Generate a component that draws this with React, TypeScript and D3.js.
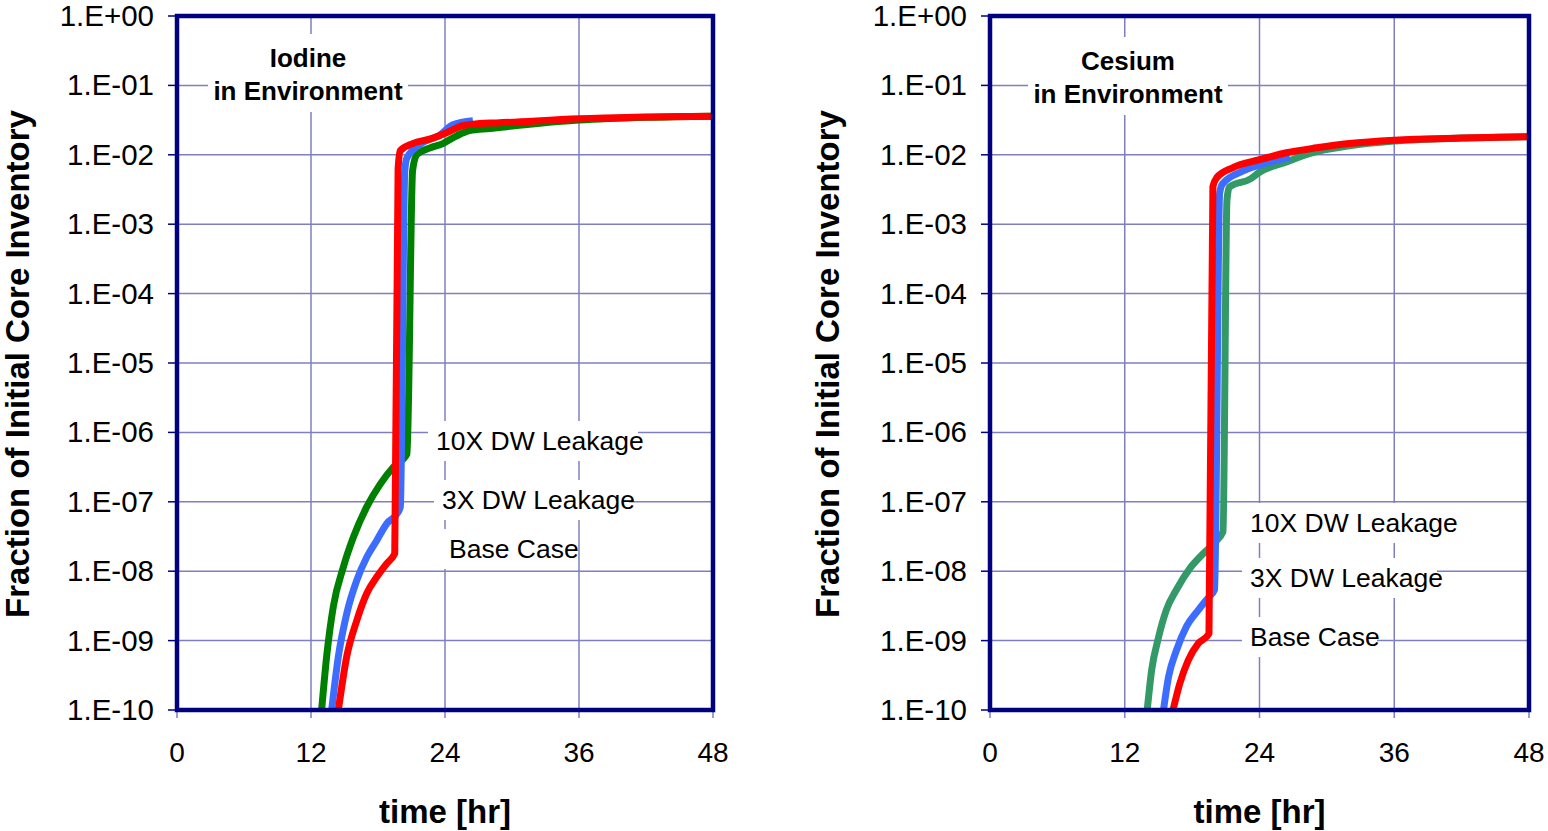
import * as d3 from "d3";

// tick definitions
const yExponents = [0, -1, -2, -3, -4, -5, -6, -7, -8, -9, -10];
const yTickLabels = ["1.E+00", "1.E-01", "1.E-02", "1.E-03", "1.E-04", "1.E-05", "1.E-06", "1.E-07", "1.E-08", "1.E-09", "1.E-10"];
const xTicks = [0, 12, 24, 36, 48];

// Iodine in environment (hours, fraction of initial core inventory)
const iodineTime10x = [12.95, 13.4, 14.0, 14.9, 15.8, 17.0, 18.2, 19.4, 20.6, 21.1, 21.5, 22.7, 23.8, 25.0, 26.2, 28.0, 36, 42, 48];
const iodineFrac10x = [1e-10, 5.9e-10, 3.1e-9, 1.15e-8, 3.1e-8, 8.5e-8, 1.8e-7, 3.2e-7, 4.9e-7, 6e-3, 1.02e-2, 1.26e-2, 1.45e-2, 1.86e-2, 2.24e-2, 2.4e-2, 3.16e-2, 3.47e-2, 3.6e-2];
const iodineTime3x = [13.85, 14.45, 15.2, 16.1, 17.0, 17.9, 18.8, 19.8, 20.0, 20.4, 20.6, 22.0, 23.5, 24.7, 26.5];
const iodineFrac3x = [1e-10, 5.9e-10, 2.45e-9, 7.4e-9, 1.6e-8, 2.8e-8, 4.9e-8, 7.1e-8, 8.5e-8, 6e-3, 9.1e-3, 1.5e-2, 1.9e-2, 2.7e-2, 3.09e-2];
const iodineTimeBase = [14.45, 15.2, 16.1, 17.0, 17.9, 18.8, 19.5, 19.8, 20.0, 21.1, 22.7, 24.2, 25.6, 27.1, 28.6, 36, 48];
const iodineFracBase = [1e-10, 5.9e-10, 1.95e-9, 4.8e-9, 8.3e-9, 1.3e-8, 1.8e-8, 6.3e-3, 1.15e-2, 1.45e-2, 1.7e-2, 2.1e-2, 2.63e-2, 2.82e-2, 2.88e-2, 3.3e-2, 3.6e-2];

// Cesium in environment
const cesiumTime10x = [14.0, 14.4, 15.0, 15.7, 16.6, 17.8, 19.0, 20.0, 20.75, 21.1, 21.3, 23.2, 24.0, 26.4, 28.5, 32, 36, 42, 48];
const cesiumFrac10x = [1e-10, 3.8e-10, 1.1e-9, 2.75e-9, 5.4e-9, 1.1e-8, 1.8e-8, 2.6e-8, 3.7e-8, 2.2e-3, 3.4e-3, 4.5e-3, 5.6e-3, 7.9e-3, 1.05e-2, 1.35e-2, 1.58e-2, 1.74e-2, 1.82e-2];
const cesiumTime3x = [15.45, 15.9, 16.6, 17.5, 18.55, 19.4, 20.0, 20.45, 20.7, 22.5, 24.0, 26.7];
const cesiumFrac3x = [1e-10, 3.0e-10, 7.2e-10, 1.6e-9, 2.75e-9, 4.1e-9, 5.4e-9, 2.8e-3, 3.8e-3, 5.8e-3, 7.1e-3, 9.3e-3];
const cesiumTimeBase = [16.3, 16.9, 17.65, 18.55, 19.5, 19.85, 20.2, 21.6, 24.0, 26.4, 29.1, 32, 36, 42, 48];
const cesiumFracBase = [1e-10, 2.4e-10, 5.2e-10, 9.1e-10, 1.26e-9, 3.5e-3, 4.7e-3, 6.5e-3, 8.5e-3, 1.07e-2, 1.26e-2, 1.45e-2, 1.62e-2, 1.74e-2, 1.82e-2];

const seriesLabels = ["10X DW Leakage", "3X DW Leakage", "Base Case"];

const FONT = "'Liberation Sans', Arial, sans-serif";
const NAVY = "#000080";
const GRID = "#7f7fc0";

type Series = { time: number[]; frac: number[]; color: string };

function Panel(props: {
  left: number; right: number; top: number; bottom: number;
  title: string[]; titleX: number; titleY: number;
  series: Series[];
  labelX: number[]; labelY: number[];
  axisTitleX: number; id: string;
}) {
  const { left, right, top, bottom } = props;
  const x = d3.scaleLinear().domain([0, 48]).range([left, right]);
  const y = d3.scaleLog().domain([1e-10, 1]).range([bottom, top]);

  // monotone in x keeps the steep jump sharp at its foot
  const line = d3.line<[number, number]>()
    .x(d => x(d[0]))
    .y(d => y(d[1]))
    .curve(d3.curveMonotoneX);

  const midY = (top + bottom) / 2;
  const midX = (left + right) / 2;

  return (
    <g>
      <defs>
        <clipPath id={props.id}>
          <rect x={left} y={top} width={right - left} height={bottom - top} />
        </clipPath>
      </defs>

      {/* grid */}
      {yExponents.slice(1, -1).map(e => (
        <line key={"h" + e} x1={left} x2={right} y1={y(Math.pow(10, e))} y2={y(Math.pow(10, e))} stroke={GRID} strokeWidth={1.5} />
      ))}
      {xTicks.slice(1, -1).map(t => (
        <line key={"v" + t} x1={x(t)} x2={x(t)} y1={top} y2={bottom} stroke={GRID} strokeWidth={1.5} />
      ))}

      {/* title box */}
      <rect x={props.titleX - 100} y={props.titleY - 24} width={200} height={78} fill="white" />
      {props.title.map((s, i) => (
        <text key={s} x={props.titleX} y={props.titleY + i * 33 + 9} textAnchor="middle" fontFamily={FONT} fontWeight="bold" fontSize={26} fill="#000">{s}</text>
      ))}

      {/* series labels */}
      {seriesLabels.map((s, i) => (
        <g key={s}>
          <rect x={props.labelX[i] - 8} y={props.labelY[i] - 20} width={s.length * 15} height={40} fill="white" />
          <text x={props.labelX[i]} y={props.labelY[i] + 9} fontFamily={FONT} fontSize={26.5} fill="#000">{s}</text>
        </g>
      ))}

      {/* series */}
      <g clipPath={`url(#${props.id})`}>
        {props.series.map((s, i) => (
          <path key={i} d={line(s.time.map((t, j) => [t, s.frac[j]] as [number, number])) || ""} fill="none" stroke={s.color} strokeWidth={7} strokeLinejoin="round" />
        ))}
      </g>

      {/* ticks */}
      {yExponents.map(e => (
        <line key={"yt" + e} x1={left - 9} x2={left} y1={y(Math.pow(10, e))} y2={y(Math.pow(10, e))} stroke={NAVY} strokeWidth={1.5} />
      ))}
      {xTicks.map(t => (
        <line key={"xt" + t} x1={x(t)} x2={x(t)} y1={bottom} y2={bottom + 8} stroke={GRID} strokeWidth={1.5} />
      ))}

      {/* frame */}
      <rect x={left} y={top} width={right - left} height={bottom - top} fill="none" stroke={NAVY} strokeWidth={4.5} />

      {/* tick labels */}
      {yExponents.map((e, i) => (
        <text key={"yl" + e} x={left - 23} y={y(Math.pow(10, e)) + 10} textAnchor="end" fontFamily={FONT} fontSize={29.5} fill="#000">{yTickLabels[i]}</text>
      ))}
      {xTicks.map(t => (
        <text key={"xl" + t} x={x(t)} y={bottom + 52} textAnchor="middle" fontFamily={FONT} fontSize={28} fill="#000">{t}</text>
      ))}

      {/* axis titles */}
      <text x={midX} y={823} textAnchor="middle" fontFamily={FONT} fontWeight="bold" fontSize={33} fill="#000">time [hr]</text>
      <text transform={`translate(${props.axisTitleX},${midY + 1}) rotate(-90)`} textAnchor="middle" fontFamily={FONT} fontWeight="bold" fontSize={33} fill="#000">Fraction of Initial Core Inventory</text>
    </g>
  );
}

export default function App() {
  return (
    <svg width={1548} height={831} style={{ position: "absolute", left: 0, top: 0, background: "white" }}>
      <Panel
        id="clipI" left={177} right={713} top={16} bottom={710}
        title={["Iodine", "in Environment"]} titleX={308} titleY={58}
        series={[
          { time: iodineTime10x, frac: iodineFrac10x, color: "#008000" },
          { time: iodineTime3x, frac: iodineFrac3x, color: "#3d6dff" },
          { time: iodineTimeBase, frac: iodineFracBase, color: "#ff0000" },
        ]}
        labelX={[436, 442, 449]} labelY={[441, 500, 549]}
        axisTitleX={29}
      />
      <Panel
        id="clipC" left={990} right={1529} top={16} bottom={710}
        title={["Cesium", "in Environment"]} titleX={1128} titleY={61}
        series={[
          { time: cesiumTime10x, frac: cesiumFrac10x, color: "#339966" },
          { time: cesiumTime3x, frac: cesiumFrac3x, color: "#3d6dff" },
          { time: cesiumTimeBase, frac: cesiumFracBase, color: "#ff0000" },
        ]}
        labelX={[1250, 1250, 1250]} labelY={[523, 578, 637]}
        axisTitleX={839}
      />
    </svg>
  );
}
